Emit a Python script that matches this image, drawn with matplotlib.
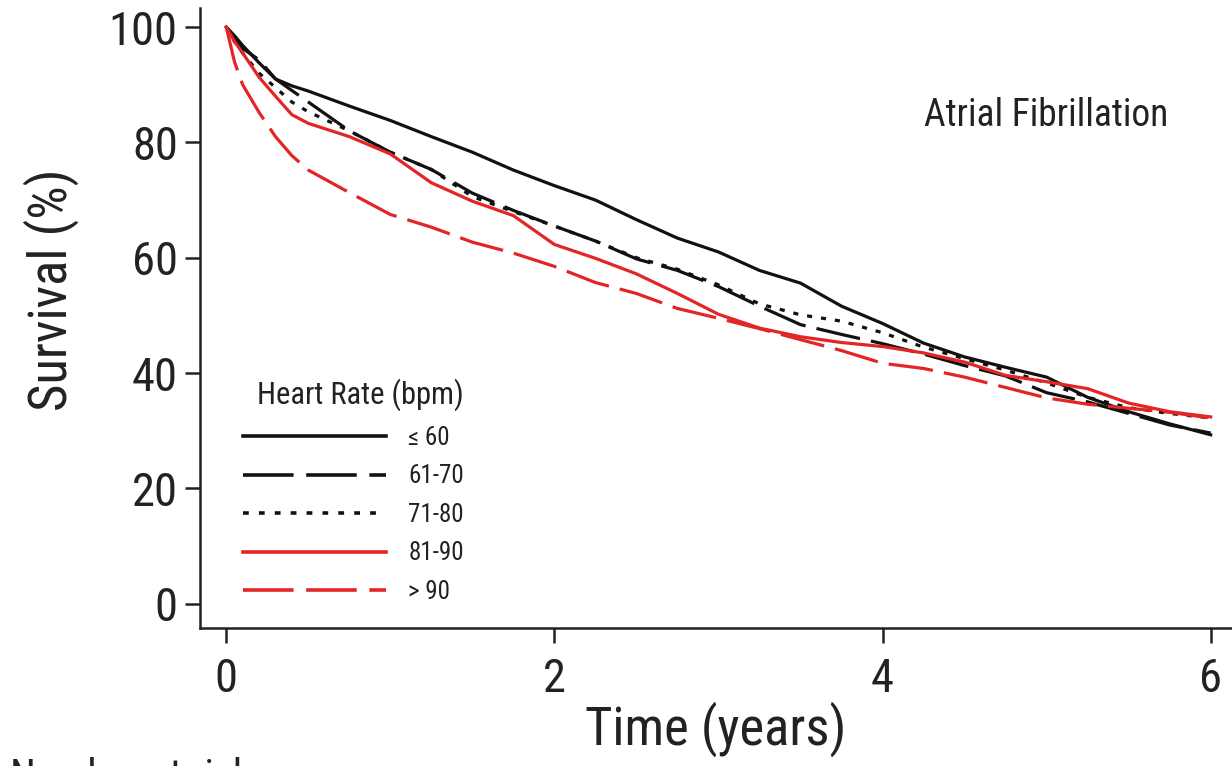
import matplotlib
matplotlib.use("Agg")
import matplotlib.pyplot as plt
from matplotlib import font_manager

# Kaplan-Meier survival (time in years, survival in %)
time_years = [0, 0.05, 0.1, 0.2, 0.3, 0.4, 0.5, 0.75, 1.0, 1.25, 1.5, 1.75, 2.0, 2.25, 2.5,
              2.75, 3.0, 3.25, 3.5, 3.75, 4.0, 4.25, 4.5, 4.75, 5.0, 5.25, 5.5, 5.75, 6.0]

hr_le60 = [100, 98.5, 96.8, 93.8, 91.0, 89.8, 88.9, 86.3, 83.8, 81.0, 78.3, 75.2, 72.5, 70.0, 66.6,
           63.4, 61.0, 57.8, 55.6, 51.6, 48.6, 45.2, 42.8, 41.0, 39.3, 35.8, 33.3, 31.2, 29.3]
hr_61_70 = [100, 98.0, 96.3, 94.3, 91.0, 89.0, 87.0, 82.0, 78.3, 75.3, 71.2, 68.2, 65.5, 62.9, 59.8,
            57.8, 55.0, 51.6, 48.4, 46.7, 45.1, 43.3, 41.3, 39.5, 36.6, 35.0, 33.0, 31.0, 29.6]
hr_71_80 = [100, 97.5, 95.5, 92.0, 89.5, 87.0, 85.3, 82.0, 78.3, 75.3, 70.6, 68.0, 65.5, 62.9, 60.0,
            58.0, 55.3, 52.0, 50.1, 49.0, 47.0, 44.5, 42.5, 40.5, 38.3, 35.8, 34.0, 33.0, 32.2]
hr_81_90 = [100, 97.5, 95.5, 91.3, 88.0, 84.8, 83.3, 81.0, 78.0, 73.0, 69.8, 67.3, 62.3, 59.9, 57.2,
            53.8, 50.2, 47.8, 46.3, 45.3, 44.6, 43.5, 41.9, 39.6, 38.5, 37.3, 34.8, 33.3, 32.4]
hr_gt90 = [100, 94.0, 90.0, 85.2, 81.0, 77.7, 75.2, 71.3, 67.5, 65.3, 62.7, 60.8, 58.5, 55.7, 53.8,
           51.2, 49.5, 47.7, 45.8, 43.9, 41.7, 40.8, 39.3, 37.5, 35.7, 34.6, 33.9, 33.2, 32.2]

group_labels = ["\u2264 60", "61-70", "71-80", "81-90", "> 90"]
x_ticks = [0, 2, 4, 6]
y_ticks = [0, 20, 40, 60, 80, 100]

# pick a condensed font if one is around
names = {f.name for f in font_manager.fontManager.ttflist}
fam = "Roboto Condensed" if "Roboto Condensed" in names else (
    "Liberation Sans Narrow" if "Liberation Sans Narrow" in names else "Roboto")
plt.rcParams['font.family'] = [fam, 'DejaVu Sans']

black = "#111111"
red = "#e32526"
ink = "#222222"

fig = plt.figure(figsize=(12.32, 7.66), dpi=100)
ax = fig.add_axes([200 / 1232, 1 - 628 / 766, 1032 / 1232, 620 / 766])

series = [hr_le60, hr_61_70, hr_71_80, hr_81_90, hr_gt90]
colors = [black, black, black, red, red]
styles = ['-', (0, (14, 3.5)), (0, (1.6, 2.8)), '-', (0, (14, 3.5))]

for vals, c, ls, lab in zip(series, colors, styles, group_labels):
    ax.plot(time_years, vals, color=c, linestyle=ls, linewidth=2.3, label=lab)

ax.set_xlim(-0.16, 6.13)
ax.set_ylim(-4.2, 103.3)
ax.set_xticks(x_ticks)
ax.set_yticks(y_ticks)
ax.spines['top'].set_visible(False)
ax.spines['right'].set_visible(False)
for s in ['left', 'bottom']:
    ax.spines[s].set_linewidth(1.8)
    ax.spines[s].set_color(ink)
ax.tick_params(axis='both', length=11, width=1.8, color=ink, labelsize=33.5, labelcolor=ink)
ax.tick_params(axis='y', pad=5)
ax.tick_params(axis='x', pad=10)

ax.set_xlabel("Time (years)", fontsize=38, color=ink, labelpad=0)
ax.set_ylabel("Survival (%)", fontsize=38, color=ink)
ax.yaxis.set_label_coords(-0.117, 0.545)

ax.text(5.0, 84.7, "Atrial Fibrillation", fontsize=27, color=ink, ha='center', va='center')

leg = ax.legend(loc='upper left', bbox_to_anchor=(0.042, 0.402), frameon=False,
                title="Heart Rate (bpm)", title_fontsize=22, fontsize=18,
                handlelength=5.7, handletextpad=0.9, labelspacing=0.58,
                borderpad=0, borderaxespad=0, alignment='right')
for t in leg.get_texts():
    t.set_color(ink)
leg.get_title().set_color(ink)
for h in leg.legend_handles:
    h.set_linewidth(2.6)

# cut-off heading of the risk table below the figure
fig.text(0.008, 1 - 757 / 766, "Number at risk", fontsize=30, color=ink, va='top')

fig.savefig("out.png", dpi=100)
